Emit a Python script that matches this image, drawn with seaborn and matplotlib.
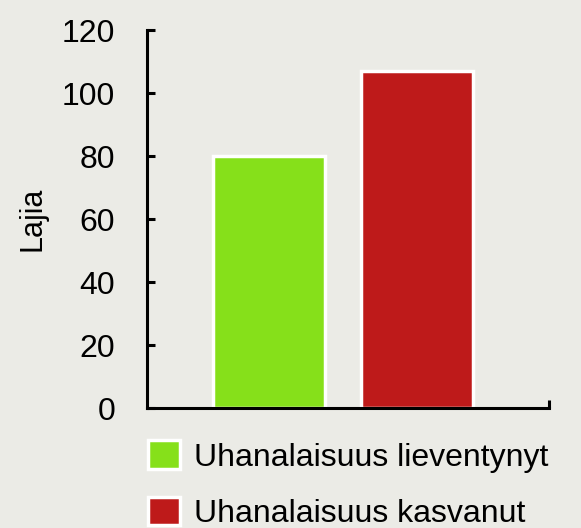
import pandas as pd
import seaborn as sns
import matplotlib.pyplot as plt

categories = ["Uhanalaisuus lieventynyt", "Uhanalaisuus kasvanut"]
values = [80, 107]
colors = ["#86E01A", "#BE1A1A"]

df = pd.DataFrame({"Ryhmä": categories, "Lajia": values})

sns.set_style("ticks")
plt.rcParams["font.family"] = ["Liberation Sans", "DejaVu Sans"]
plt.rcParams["text.color"] = "black"
bg = "#EBEBE6"

fig = plt.figure(figsize=(5.81, 5.28), dpi=100, facecolor=bg)
ax = fig.add_axes([0.253, 0.227, 0.692, 0.716], facecolor=bg)

sns.barplot(data=df, x="Ryhmä", y="Lajia", hue="Ryhmä", palette=colors, saturation=1,
            width=0.757, edgecolor="white", linewidth=2.5, ax=ax, legend=False)

ax.set_ylim(0, 120)
ax.set_xlim(-0.824, 1.889)
ax.set_yticks(range(0, 121, 20))
ax.set_xticks([1.889])
ax.set_xticklabels([""])
ax.tick_params(axis="y", left=True, direction="in", length=6, width=2.2,
               labelsize=23, pad=23, labelcolor="black", color="black")
ax.tick_params(axis="x", bottom=True, direction="in", length=6, width=2.2, color="black")
ax.set_xlabel("")
ax.set_ylabel("Lajia", fontsize=22, labelpad=10, color="black")
for s in ["top", "right"]:
    ax.spines[s].set_visible(False)
for s in ["left", "bottom"]:
    ax.spines[s].set_linewidth(2.2)
    ax.spines[s].set_color("black")

handles = [plt.Rectangle((0, 0), 1, 1, facecolor=c, edgecolor="white", linewidth=2.5) for c in colors]
fig.legend(handles, categories, loc="upper left", bbox_to_anchor=(0.233, 0.19),
           frameon=False, fontsize=23, handlelength=1.0, handleheight=1.0,
           handletextpad=0.45, labelspacing=0.75, borderaxespad=0, labelcolor="black")

fig.savefig("out.png", dpi=100, facecolor=bg)
